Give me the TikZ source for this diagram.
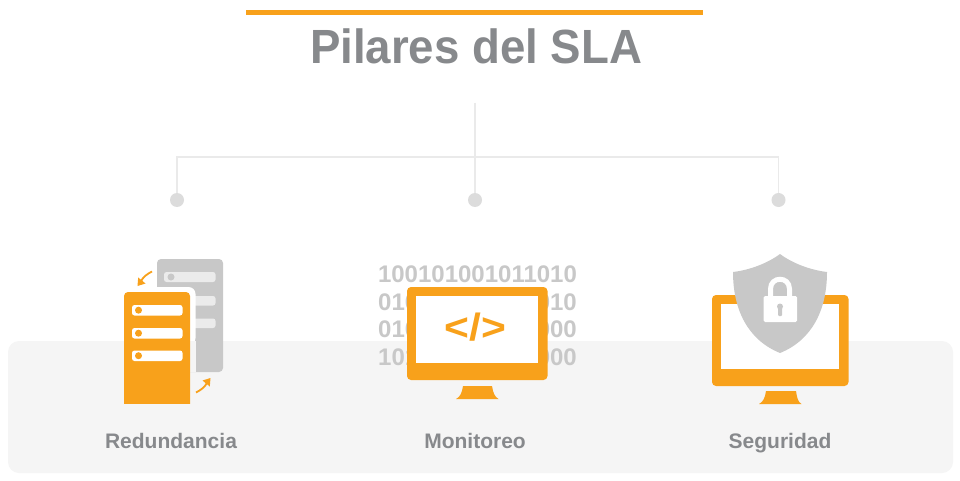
\documentclass[tikz,border=0pt]{standalone}
\usepackage{fontspec}
\setmainfont{Liberation Sans}
\definecolor{org}{HTML}{F8A11B}
\definecolor{txtg}{HTML}{87898C}
\definecolor{srv}{HTML}{C8C8C8}
\definecolor{ln}{HTML}{EAEAEA}
\definecolor{dotc}{HTML}{DCDCDC}
\definecolor{panel}{HTML}{F5F5F5}
\definecolor{barg}{HTML}{EBEBEB}
\tikzset{
  x=1pt,y=-1pt,
  lbl/.style={text=txtg,font=\bfseries\fontsize{21}{21}\selectfont,inner sep=0pt,anchor=base},
  bin/.style={text=srv,font=\bfseries\fontsize{24}{24}\selectfont,inner sep=0pt},
  binl/.style={bin,anchor=west},
  binr/.style={bin,anchor=east},
  conn/.style={draw=ln,line width=1.8pt},
  dotn/.style={circle,fill=dotc,minimum size=14pt,inner sep=0pt},
  orgarrow/.style={draw=org,line width=1.8pt},
}
\begin{document}
\begin{tikzpicture}
\useasboundingbox (0,0) rectangle (960,481);
\fill[white] (0,0) rectangle (960,481);
\fill[panel,rounded corners=11pt] (8,341) rectangle (953,473);
% title
\fill[org] (246,10) rectangle (703,15.5);
\node[text=txtg,font=\bfseries\fontsize{48}{48}\selectfont,inner sep=0pt,anchor=base] (title) at (476,64) {\scalebox{0.95}[1]{Pilares del SLA}};
% connectors
\coordinate (hubtop) at (475,103);
\coordinate (hub) at (475,157);
\node[dotn] (d1) at (177,200) {};
\node[dotn] (d2) at (475,200) {};
\node[dotn] (d3) at (778.5,200) {};
\draw[conn] (hubtop) -- (d2);
\draw[conn] (d1) |- (hub) -| (d3);
% Redundancia
\fill[srv,rounded corners=4pt] (157,372) -- (157,259) -- (223,259) -- (223,372) -- cycle;
\fill[barg,rounded corners=2.5pt] (164,272) rectangle (215.5,282);
\fill[srv] (171,277) circle (3.5);
\fill[barg,rounded corners=2.5pt] (190,296) rectangle (215.5,305.5);
\fill[barg,rounded corners=2.5pt] (190,318.5) rectangle (215.5,328);
\fill[white,rounded corners=7pt] (124,345) -- (124,287) -- (195.5,287) -- (195.5,345) -- cycle;
\fill[panel] (124,341) rectangle (195.5,372);
\fill[org,rounded corners=4pt] (124,410) -- (124,292) -- (190,292) -- (190,410) -- cycle;
\fill[panel] (120,404) rectangle (195,412);
\foreach \y in {305,328,350.5}{
  \fill[white,rounded corners=2.5pt] (132,\y) rectangle (182.5,\y+10.5);
  \fill[org] (138.5,\y+5.2) circle (3.5);
}
\draw[orgarrow] (152,271.5) .. controls (147,274) and (143,277) .. (140.5,282);
\fill[org] (137.5,286) -- (138.2,277.5) -- (145.5,283.5) -- cycle;
\draw[orgarrow] (196,392.5) .. controls (201,390) and (205,387) .. (207.5,382);
\fill[org] (210.5,378) -- (209.8,386.5) -- (202.5,380.5) -- cycle;
\node[lbl] (l1) at (171,448) {Redundancia};
% Monitoreo
\node[bin] (b1) at (477.5,274) {100101001011010};
\node[binl] (b2l) at (378,302) {010};
\node[binr] (b2r) at (577,302) {010};
\node[binl] (b3l) at (378,329.5) {010};
\node[binr] (b3r) at (577,329.5) {000};
\node[binl] (b4l) at (378,357) {101};
\node[binr] (b4r) at (577,357) {000};
\fill[org,rounded corners=4pt] (407,287) rectangle (547.5,380);
\fill[white] (416,296) rectangle (538,363);
\fill[org] (463,386) -- (492,386) .. controls (493,393) and (495,397) .. (498.5,399) -- (456,399) .. controls (460,397) and (462,393) .. (463,386) -- cycle;
\node[text=org,font=\bfseries\fontsize{38}{38}\selectfont,inner sep=0pt] (code) at (475.5,327.5) {\scalebox{1.12}[1]{</>}};
\node[lbl] (l2) at (475,448) {Monitoreo};
% Seguridad
\fill[org,rounded corners=4pt] (712,295) rectangle (848.5,386);
\fill[white] (721,304) rectangle (839,369);
\fill[org] (766,391) -- (796,391) .. controls (797,398) and (798,402) .. (801.5,404) -- (759,404) .. controls (763,402) and (765,398) .. (766,391) -- cycle;
\fill[srv] (780,254) .. controls (768,263) and (750,270) .. (733,272)
  .. controls (733,310) and (748,340) .. (780,353)
  .. controls (812,340) and (827,310) .. (827,272)
  .. controls (810,270) and (792,263) .. (780,254) -- cycle;
\draw[white,line width=5pt] (770.5,297) -- (770.5,289) .. controls (770.5,276) and (789.5,276) .. (789.5,289) -- (789.5,297);
\fill[white,rounded corners=1.5pt] (763.5,296) rectangle (797,322);
\fill[srv] (780,306.5) circle (3);
\fill[srv,rounded corners=1pt] (778,306.5) rectangle (782,316);
\node[lbl] (l3) at (780,448) {Seguridad};
\end{tikzpicture}
\end{document}
